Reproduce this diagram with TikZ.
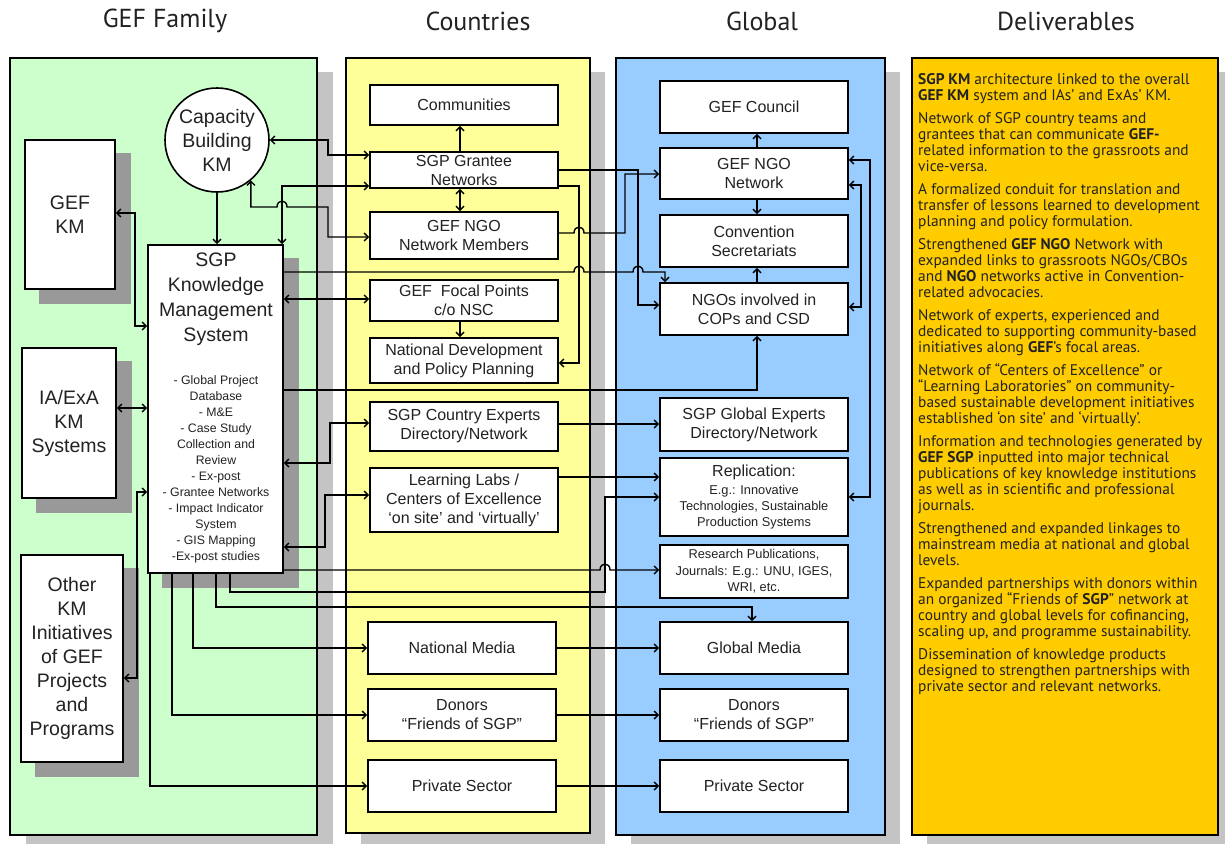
\documentclass[tikz,border=0pt]{standalone}
\usepackage{fontspec}
\setmainfont{Liberation Sans}
\newfontfamily\gill{PT Sans}
\usetikzlibrary{arrows.meta}
\pgfdeclarelayer{bg}
\pgfdeclarelayer{lines}
\pgfsetlayers{bg,lines,main}
\definecolor{pgreen}{HTML}{CCFFCC}
\definecolor{pyellow}{HTML}{FFFF99}
\definecolor{pblue}{HTML}{99CCFF}
\definecolor{porange}{HTML}{FFCC00}
\definecolor{shlight}{HTML}{C4C4C4}
\definecolor{shdark}{HTML}{999999}
\definecolor{txt}{HTML}{222222}
\begin{document}
\begin{tikzpicture}[x=1pt,y=-1pt,
  panel/.style={draw, line width=2pt, inner sep=0pt},
  box/.style={draw, line width=1.6pt, fill=white, inner sep=0pt, align=center, text=txt, minimum width=188, font=\fontsize{16}{19}\selectfont},
  bigbox/.style={box, minimum width=0pt, font=\fontsize{19.5}{24}\selectfont},
  title/.style={font=\gill\fontsize{26}{30}\selectfont, text=txt},
  conn/.style={line width=1.4pt},
  arr/.style={conn, -{Straight Barb[length=4pt,width=8pt]}},
  darr/.style={conn, {Straight Barb[length=4pt,width=8pt]}-{Straight Barb[length=4pt,width=8pt]}}]
\useasboundingbox (0,0) rectangle (1225,843);
\begin{pgfonlayer}{bg}
 \fill[white] (0,0) rectangle (1225,843);
 \fill[shlight] (26,72) rectangle (333,850);
 \fill[shlight] (361,72) rectangle (605,850);
 \fill[shlight] (631,72) rectangle (900,850);
 \fill[shlight] (927,72) rectangle (1233,850);
 \node[panel, fill=pgreen, minimum width=307, minimum height=777] (pfam) at (163.5,446.5) {};
 \node[panel, fill=pyellow, minimum width=244, minimum height=775] (pcty) at (468,445.5) {};
 \node[panel, fill=pblue, minimum width=269, minimum height=777] (pglb) at (750.5,446.5) {};
 \node[panel, fill=porange, minimum width=306, minimum height=777] (pdel) at (1065,446.5) {};
\end{pgfonlayer}

% titles
\node[title] (tfam) at (165,21) {GEF Family};
\node[title] (tcty) at (478,21) {Countries};
\node[title] (tglb) at (762,21) {Global};
\node[title] (tdel) at (1066,21) {Deliverables};

% GEF family column
\node[bigbox, circle, minimum size=104] (cap) at (217,140) {Capacity\\Building\\KM};
\node[bigbox, minimum width=90, minimum height=149] (gefkm) at (70,214.5) {GEF\\KM};
\node[bigbox, minimum width=135, minimum height=328] (kms) at (215.5,409) {};
\node[align=center, text=txt, inner sep=0pt, font=\fontsize{19.5}{25}\selectfont] (kmstitle) at (216,299) {SGP\\Knowledge\\Management\\System};
\node[align=center, text=txt, inner sep=0pt, font=\fontsize{12.3}{16}\selectfont] (kmslist) at (216,469) {- Global Project\\Database\\- M\&E\\- Case Study\\Collection and\\Review\\- Ex-post\\- Grantee Networks\\- Impact Indicator\\System\\- GIS Mapping\\-Ex-post studies};
\node[bigbox, minimum width=94, minimum height=150] (iaexa) at (69,423) {IA/ExA\\KM\\Systems};
\node[bigbox, minimum width=102, minimum height=207] (other) at (72,658.5) {Other\\KM\\Initiatives\\of GEF\\Projects\\and\\Programs};

% Countries column
\node[box, minimum height=40] (comm) at (464,105) {Communities};
\node[box, minimum height=36] (sgpgn) at (464,170) {SGP Grantee\\Networks};
\node[box, minimum height=47] (ngomem) at (464,235.5) {GEF NGO\\Network Members};
\node[box, minimum height=41] (focal) at (464,300.5) {GEF~~Focal Points\\c/o NSC};
\node[box, minimum height=45] (natdev) at (464,360.5) {National Development\\and Policy Planning};
\node[box, minimum height=49] (cexp) at (464,426.5) {SGP Country Experts\\Directory/Network};
\node[box, minimum height=64] (labs) at (464,500) {Learning Labs /\\Centers of Excellence\\‘on site’ and ‘virtually’};
\node[box, minimum height=52] (nmedia) at (462,648) {National Media};
\node[box, minimum height=52] (cdonors) at (462,715) {Donors\\“Friends of SGP”};
\node[box, minimum height=52] (cpriv) at (462,786) {Private Sector};

% Global column
\node[box, minimum height=52] (council) at (754,107) {GEF Council};
\node[box, minimum height=51] (ngonet) at (754,173.5) {GEF NGO\\Network};
\node[box, minimum height=52] (conv) at (754,241) {Convention\\Secretariats};
\node[box, minimum height=52] (ngocop) at (754,309) {NGOs involved in\\COPs and CSD};
\node[box, minimum height=53] (gexp) at (754,424.5) {SGP Global Experts\\Directory/Network};
\node[box, minimum height=78] (repl) at (754,497) {Replication:\\[-1pt]{\fontsize{12.8}{16}\selectfont E.g.: Innovative}\\[-3pt]{\fontsize{12.8}{16}\selectfont Technologies, Sustainable}\\[-3pt]{\fontsize{12.8}{16}\selectfont Production Systems}};
\node[box, minimum height=53, font=\fontsize{12.8}{16.5}\selectfont] (research) at (754,571.5) {Research Publications,\\Journals: E.g.: UNU, IGES,\\WRI, etc.};
\node[box, minimum height=52] (gmedia) at (754,648) {Global Media};
\node[box, minimum height=52] (gdonors) at (754,715) {Donors\\“Friends of SGP”};
\node[box, minimum height=52] (gpriv) at (754,786) {Private Sector};

% Deliverables text
\node[anchor=north west, align=left, inner sep=0pt, text=txt, font=\gill\fontsize{15.4}{16}\selectfont] (deltext) at (918,73) {%
\textbf{SGP KM} architecture linked to the overall\\
\textbf{GEF KM} system and IAs’ and ExAs’ KM.\\[7pt]
Network of SGP country teams and\\
grantees that can communicate \textbf{GEF-}\\
related information to the grassroots and\\
vice-versa.\\[7pt]
A formalized conduit for translation and\\
transfer of lessons learned to development\\
planning and policy formulation.\\[7pt]
Strengthened \textbf{GEF NGO} Network with\\
expanded links to grassroots NGOs/CBOs\\
and \textbf{NGO} networks active in Convention-\\
related advocacies.\\[7pt]
Network of experts, experienced and\\
dedicated to supporting community-based\\
initiatives along \textbf{GEF}’s focal areas.\\[7pt]
Network of “Centers of Excellence” or\\
“Learning Laboratories” on community-\\
based sustainable development initiatives\\
established ‘on site’ and ‘virtually’.\\[7pt]
Information and technologies generated by\\
\textbf{GEF SGP} inputted into major technical\\
publications of key knowledge institutions\\
as well as in scientific and professional\\
journals.\\[7pt]
Strengthened and expanded linkages to\\
mainstream media at national and global\\
levels.\\[7pt]
Expanded partnerships with donors within\\
an organized “Friends of \textbf{SGP}” network at\\
country and global levels for cofinancing,\\
scaling up, and programme sustainability.\\[7pt]
Dissemination of knowledge products\\
designed to strengthen partnerships with\\
private sector and relevant networks.};

% box shadows
\begin{pgfonlayer}{bg}
 \foreach \n in {gefkm,kms,iaexa,other}
   \fill[shdark] ([xshift=15,yshift=-14]\n.north west) rectangle ([xshift=15,yshift=-14]\n.south east);
\end{pgfonlayer}

% connectors
\begin{pgfonlayer}{lines}
\draw[darr] (cap.east) -- (328,140) -- (328,155) -- (sgpgn.west |- 0,155);
\draw[darr] (sgpgn.west |- 0,186) -- (282,186) -- (282,0 |- kms.north);
\draw[arr] (sgpgn.east |- 0,186) -- (579,186) -- (579,363) -- (natdev.east |- 0,363);
\draw[darr] (cap.-50) -- (cap.-50 |- 0,207) -- (277,207) .. controls (277,199) and (287,199) .. (287,207) -- (328,207) -- (328,237) -- (ngomem.west |- 0,237);
\draw[arr] (cap.south) -- (cap.south |- kms.north);
\draw[arr] (kms.east |- 0,272) -- (574,272) .. controls (574,264) and (584,264) .. (584,272) -- (633,272) .. controls (633,264) and (643,264) .. (643,272) -- (665,272) -- (665,0 |- ngocop.north);
\draw[darr] (kms.east |- 0,299) -- (focal.west |- 0,299);
\draw[arr] (sgpgn.east |- 0,170) -- (638,170) -- (638,305) -- (ngocop.west |- 0,305);
\draw[arr] (ngomem.east |- 0,233) -- (574,233) .. controls (574,225) and (584,225) .. (584,233) -- (625,233) -- (625,174) -- (ngonet.west |- 0,174);
\draw[arr] (kms.east |- 0,390) -- (757,390) -- (757,0 |- ngocop.south);
\draw[darr] (kms.east |- 0,463) -- (330,463) -- (330,423) -- (cexp.west |- 0,423);
\draw[darr] (kms.east |- 0,547) -- (325,547) -- (325,495) -- (labs.west |- 0,495);
\draw[arr] (cexp.east |- 0,424) -- (gexp.west |- 0,424);
\draw[arr] (labs.east |- 0,477) -- (repl.west |- 0,477);
\draw[arr] (230,0 |- kms.south) -- (230,592) -- (605,592) -- (605,497) -- (repl.west |- 0,497);
\draw[arr] (kms.east |- 0,570) -- (600,570) .. controls (600,562) and (610,562) .. (610,570) -- (research.west |- 0,570);
\draw[arr] (216,0 |- kms.south) -- (216,607) -- (752,607) -- (752,0 |- gmedia.north);
\draw[arr] (193,0 |- kms.south) -- (193,648) -- (nmedia.west |- 0,648);
\draw[arr] (172,0 |- kms.south) -- (172,715) -- (cdonors.west |- 0,715);
\draw[arr] (150,0 |- kms.south) -- (150,786) -- (cpriv.west |- 0,786);
\draw[arr] (nmedia) -- (gmedia);
\draw[arr] (cdonors) -- (gdonors);
\draw[arr] (cpriv) -- (gpriv);
\draw[arr] (460,0 |- sgpgn.north) -- (460,0 |- comm.south);
\draw[darr] (460,0 |- sgpgn.south) -- (460,0 |- ngomem.north);
\draw[arr] (460,0 |- focal.south) -- (460,0 |- natdev.north);
\draw[arr] (757,0 |- ngonet.north) -- (757,0 |- council.south);
\draw[arr] (757,0 |- ngonet.south) -- (757,0 |- conv.north);
\draw[arr] (757,0 |- ngocop.north) -- (757,0 |- conv.south);
\draw[darr] (ngonet.east |- 0,160) -- (870,160) -- (870,497) -- (repl.east |- 0,497);
\draw[darr] (ngonet.east |- 0,185) -- (861,185) -- (861,307) -- (ngocop.east |- 0,307);
\draw[darr] (gefkm.east |- 0,213) -- (135,213) -- (135,326) -- (kms.west |- 0,326);
\draw[darr] (iaexa.east |- 0,408) -- (kms.west |- 0,408);
\draw[darr] (kms.west |- 0,492) -- (137,492) -- (137,678) -- (other.east |- 0,678);
\end{pgfonlayer}
\end{tikzpicture}
\end{document}
